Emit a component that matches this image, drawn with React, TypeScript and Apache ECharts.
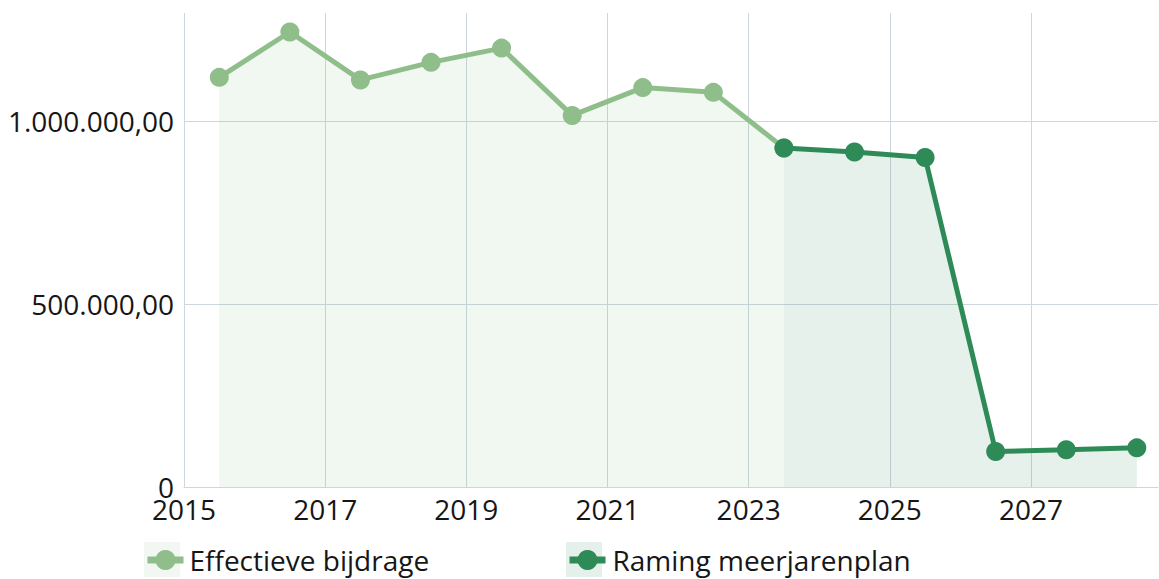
import React, { useEffect, useRef } from "react";
import * as echarts from "echarts";

const effectiveYears = [2015, 2016, 2017, 2018, 2019, 2020, 2021, 2022, 2023];
const effectiveValues = [1120000, 1244000, 1113000, 1161000, 1200000, 1016000, 1092000, 1079000, 927000];
const plannedYears = [2023, 2024, 2025, 2026, 2027, 2028];
const plannedValues = [927000, 916000, 901000, 97000, 102000, 107000];
const seriesNames = ["Effectieve bijdrage", "Raming meerjarenplan"];

const LIGHT = "#8fbe8b";
const DARK = "#2e8b57";
const GRIDC = "#cdd5df";
const FONT = "'Open Sans', 'Noto Sans', sans-serif";
const FS = 28;
const TXT = "#161616";

function fmtNL(v: number): string {
  if (v === 0) return "0";
  const s = Math.round(v).toString().replace(/\B(?=(\d{3})+(?!\d))/g, ".");
  return s + ",00";
}

export default function App() {
  const ref = useRef<HTMLDivElement>(null);
  useEffect(() => {
    if (!ref.current) return;
    const chart = echarts.init(ref.current, null, { renderer: "svg" });
    const mid = (y: number) => y + 0.5;
    chart.setOption({
      animation: false,
      textStyle: { fontFamily: FONT },
      grid: { left: 184, right: 1, top: 13, bottom: 92, containLabel: false },
      xAxis: {
        type: "value",
        min: 2015,
        max: 2028.8,
        interval: 2,
        axisLine: { show: true, lineStyle: { color: GRIDC, width: 1 } },
        axisTick: { show: false },
        axisLabel: {
          margin: 12,
          fontSize: FS,
          lineHeight: 20,
          color: TXT,
          fontFamily: FONT,
          showMaxLabel: false,
          formatter: (v: number) => String(v),
        },
        splitLine: { show: true, showMaxLine: false, lineStyle: { color: GRIDC, width: 1 } },
      },
      yAxis: {
        type: "value",
        min: 0,
        max: 1296000,
        interval: 500000,
        axisLine: { show: false },
        axisTick: { show: false },
        axisLabel: {
          margin: 10,
          fontSize: FS,
          lineHeight: 20,
          color: TXT,
          fontFamily: FONT,
          showMaxLabel: false,
          formatter: (v: number) => fmtNL(v),
        },
        splitLine: { show: true, showMaxLine: false, lineStyle: { color: GRIDC, width: 1 } },
      },
      legend: [
        {
          data: [seriesNames[0]],
          left: 144,
          top: 546,
          padding: 0,
          itemWidth: 36,
          itemHeight: 25,
          lineStyle: { width: 7 },
          textStyle: { fontSize: FS, color: TXT, fontFamily: FONT, padding: [0, 0, 0, 1] },
        },
        {
          data: [seriesNames[1]],
          left: 566,
          top: 546,
          padding: 0,
          itemWidth: 36,
          itemHeight: 25,
          lineStyle: { width: 7 },
          textStyle: { fontSize: FS, color: TXT, fontFamily: FONT, padding: [0, 0, 0, 2] },
        },
      ],
      graphic: [
        { type: "rect", left: 144, top: 542, z: 0, shape: { width: 36, height: 35 }, style: { fill: "#f2f7f2" } },
        { type: "rect", left: 566, top: 542, z: 0, shape: { width: 36, height: 35 }, style: { fill: "#e6f0ea" } },
      ],
      series: [
        {
          name: seriesNames[0],
          type: "line",
          data: effectiveYears.map((y, i) => [mid(y), effectiveValues[i]]),
          symbol: "circle",
          symbolSize: 19,
          showSymbol: true,
          itemStyle: { color: LIGHT },
          lineStyle: { color: LIGHT, width: 5 },
          areaStyle: { color: LIGHT, opacity: 0.12 },
          z: 2,
        },
        {
          name: seriesNames[1],
          type: "line",
          data: plannedYears.map((y, i) => [mid(y), plannedValues[i]]),
          symbol: "circle",
          symbolSize: 19,
          showSymbol: true,
          itemStyle: { color: DARK },
          lineStyle: { color: DARK, width: 5 },
          areaStyle: { color: DARK, opacity: 0.12 },
          z: 3,
        },
      ],
    });
    return () => chart.dispose();
  }, []);
  return (
    <div
      ref={ref}
      style={{ position: "fixed", left: 0, top: 0, width: 1159, height: 579, background: "#fff" }}
    />
  );
}
